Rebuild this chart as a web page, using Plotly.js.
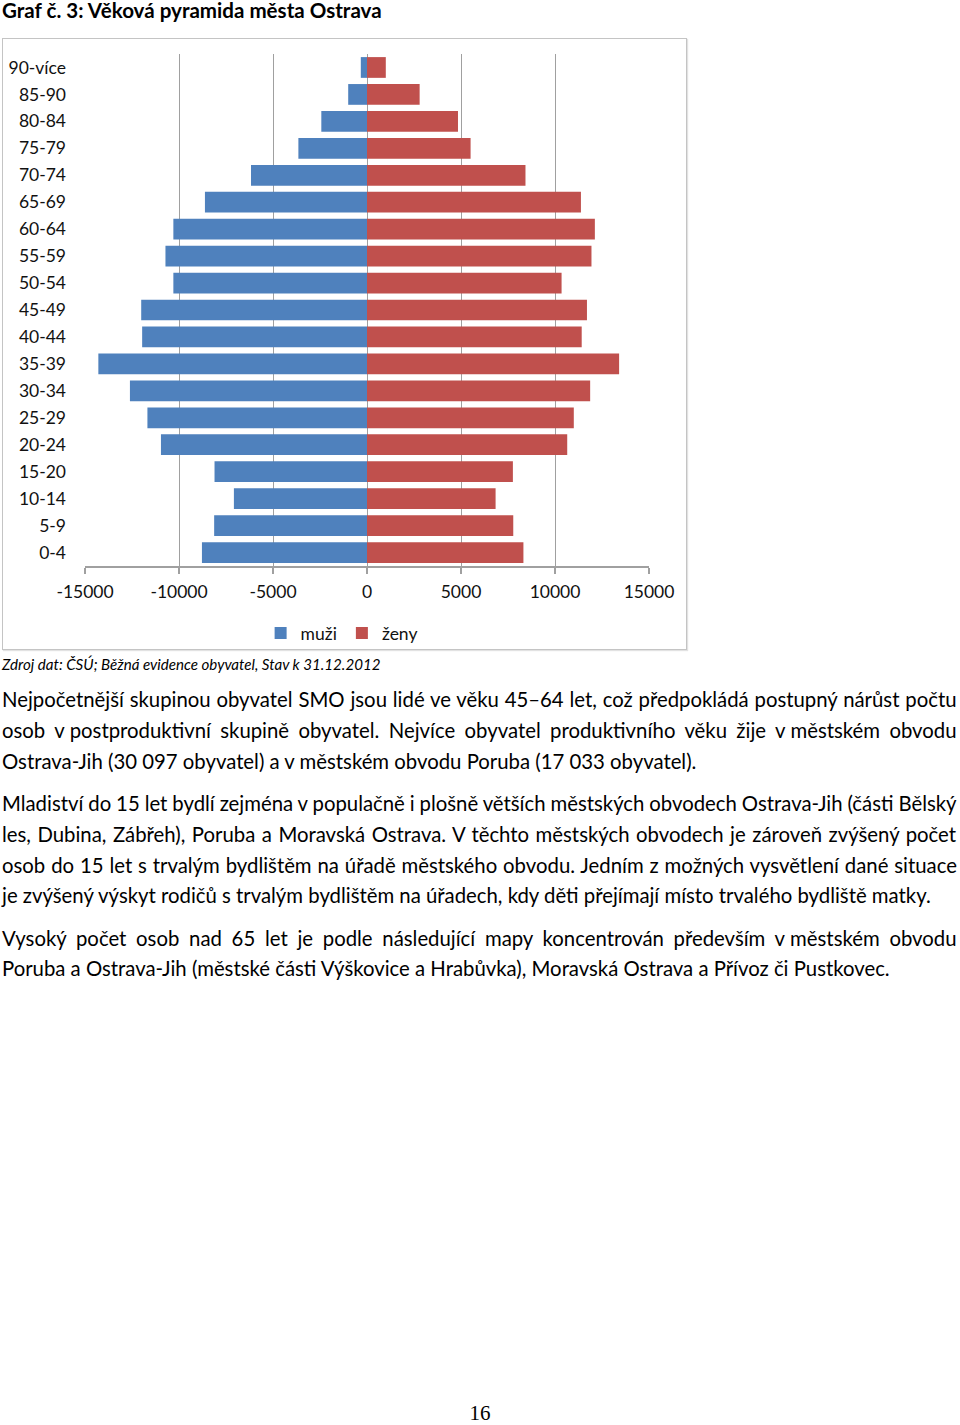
<!DOCTYPE html>
<html>
<head>
<meta charset="utf-8">
<script src="https://cdn.plot.ly/plotly-3.0.1.min.js"></script>
<style>
  html, body { margin:0; padding:0; background:#fff; }
  body { width:960px; height:1425px; position:relative; overflow:hidden; font-family: Lato, sans-serif; color:#000; }
  .ln { position:absolute; left:2px; white-space:nowrap; line-height:24px; height:24px; }
  #frame { position:absolute; left:2px; top:38px; width:685px; height:612px; box-sizing:border-box; border:1.5px solid #c4c4c4; box-shadow: 1px 1px 1px #e2e2e2; pointer-events:none; }
  #chart { position:absolute; left:0; top:0; width:700px; height:670px; }
</style>
</head>
<body>
<div id="frame"></div>
<div id="chart"></div>
<div id="texts"></div>
<script>
// ---- data ----
const ageGroups = ["0-4","5-9","10-14","15-20","20-24","25-29","30-34","35-39","40-44","45-49","50-54","55-59","60-64","65-69","70-74","75-79","80-84","85-90","90-více"];
const maleCounts   = [8780, 8130, 7080, 8110, 10960, 11680, 12610, 14290, 11960, 12010, 10300, 10720, 10300, 8620, 6170, 3650, 2430, 1000, 330];
const femaleCounts = [8320, 7780, 6840, 7760, 10650, 11000, 11870, 13410, 11420, 11700, 10350, 11940, 12120, 11380, 8430, 5510, 4840, 2800, 1000];
const seriesNames = ["muži", "ženy"];
const xTickValues = [-15000, -10000, -5000, 0, 5000, 10000, 15000];
const xTickLabels = ["-15000", "-10000", "-5000", "0", "5000", "10000", "15000"];

const titleText = "Graf č. 3: Věková pyramida města Ostrava";
const sourceText = "Zdroj dat: ČSÚ; Běžná evidence obyvatel, Stav k 31.12.2012";
const paragraphs = [
  ["Nejpočetnější skupinou obyvatel SMO jsou lidé ve věku 45–64 let, což předpokládá postupný nárůst počtu",
   "osob v\u202Fpostproduktivní skupině obyvatel. Nejvíce obyvatel produktivního věku žije v\u202Fměstském obvodu",
   "Ostrava-Jih (30 097 obyvatel) a v městském obvodu Poruba (17 033 obyvatel)."],
  ["Mladiství do 15 let bydlí zejména v populačně i plošně větších městských obvodech Ostrava-Jih (části Bělský",
   "les, Dubina, Zábřeh), Poruba a Moravská Ostrava. V těchto městských obvodech je zároveň zvýšený počet",
   "osob do 15 let s trvalým bydlištěm na úřadě městského obvodu. Jedním z možných vysvětlení dané situace",
   "je zvýšený výskyt rodičů s trvalým bydlištěm na úřadech, kdy děti přejímají místo trvalého bydliště matky."],
  ["Vysoký počet osob nad 65 let je podle následující mapy koncentrován především v\u202Fměstském obvodu",
   "Poruba a Ostrava-Jih (městské části Výškovice a Hrabůvka), Moravská Ostrava a Přívoz či Pustkovec."]
];
const pageNumber = "16";

// ---- chart ----
const FONT = "Lato, sans-serif";
const traces = [
  { type:"bar", orientation:"h", name:seriesNames[0], y:ageGroups, x:maleCounts.map(v => -v),
    marker:{color:"#4f81bd"}, hoverinfo:"none" },
  { type:"bar", orientation:"h", name:seriesNames[1], y:ageGroups, x:femaleCounts,
    marker:{color:"#c0504d"}, hoverinfo:"none" }
];
const layout = {
  width:700, height:670,
  margin:{l:85, r:51, t:54, b:104},
  paper_bgcolor:"rgba(0,0,0,0)", plot_bgcolor:"rgba(0,0,0,0)",
  barmode:"relative", bargap:0.23,
  font:{family:FONT, size:17.5, color:"#111"},
  showlegend:true,
  legend:{orientation:"h", x:0.455, xanchor:"center", y:-0.131, yanchor:"middle",
          font:{family:FONT, size:17.5, color:"#111"}, traceorder:"normal", itemwidth:30},
  xaxis:{range:[-15000,15000], tickvals:xTickValues, ticktext:xTickLabels,
         showgrid:true, gridcolor:"#a0a0a0", gridwidth:1, zeroline:false,
         showline:true, linecolor:"#a0a0a0", linewidth:1.5,
         ticks:"outside", ticklen:6, tickcolor:"#a0a0a0", tickwidth:1.5,
         ticklabelstandoff:3, fixedrange:true},
  yaxis:{type:"category", showgrid:false, zeroline:false, showline:false, ticks:"",
         ticklabelstandoff:18, fixedrange:true}
};
Plotly.newPlot("chart", traces, layout, {displayModeBar:false, staticPlot:true});

// ---- text ----
const cv = document.createElement("canvas").getContext("2d");
function measure(txt, font){ cv.font = font; return cv.measureText(txt).width; }
function fitSize(txt, style, target){ return 100 * target / measure(txt, style + " 100px Lato"); }
const host = document.getElementById("texts");
function addLine(txt, top, sizePx, style, justifyTo){
  const d = document.createElement("div");
  d.className = "ln";
  d.textContent = txt;
  d.style.top = (top - 12) + "px";
  d.style.fontSize = sizePx + "px";
  if (style.indexOf("bold") >= 0) d.style.fontWeight = "bold";
  if (style.indexOf("italic") >= 0) d.style.fontStyle = "italic";
  if (justifyTo){
    const w = measure(txt, style + " " + sizePx + "px Lato");
    const spaces = (txt.match(/[ \u00A0]/g) || []).length;
    if (spaces > 0) d.style.wordSpacing = ((justifyTo - w) / spaces) + "px";
  }
  host.appendChild(d);
}
// title
addLine(titleText, 10, fitSize(titleText, "bold", 381), "bold", null);
// source
addLine(sourceText, 664, fitSize(sourceText, "italic", 379), "italic", null);
// paragraphs
const bodySize = fitSize(paragraphs[1][3], "", 931);
const lineTops = [[699, 730, 761], [803, 834, 865, 895], [938, 968]];
paragraphs.forEach((p, pi) => {
  p.forEach((ln, li) => {
    const last = li === p.length - 1;
    addLine(ln, lineTops[pi][li], bodySize, "", last ? null : 956);
  });
});
// page number
const pn = document.createElement("div");
pn.textContent = pageNumber;
pn.style.cssText = "position:absolute;left:0;width:960px;text-align:center;top:1403px;height:20px;font-family:'Liberation Serif',serif;font-size:21px;line-height:20px;";
host.appendChild(pn);
</script>
</body>
</html>
